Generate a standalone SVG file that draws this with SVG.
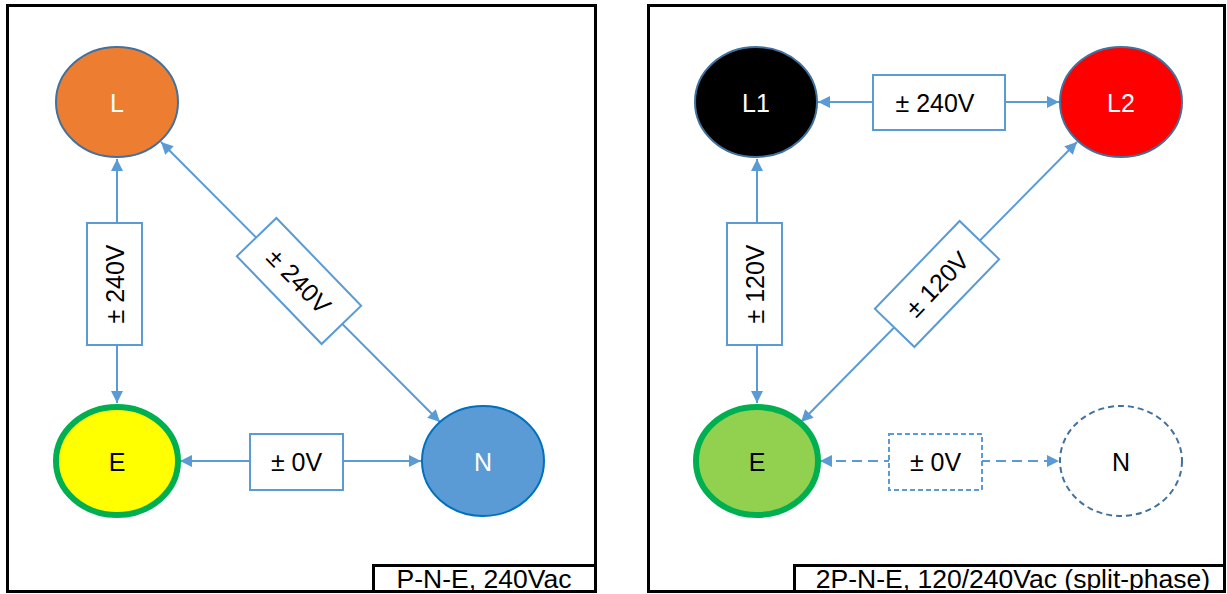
<svg xmlns="http://www.w3.org/2000/svg" width="1227" height="594" viewBox="0 0 1227 594">
<style>
.panel{fill:#fff;stroke:#000;stroke-width:3}
.t{font-family:"Liberation Sans",Arial,sans-serif;font-size:25px;text-anchor:middle;dominant-baseline:central}
.w{fill:#fff}
.k{fill:#000}
.cap{font-family:"Liberation Sans",Arial,sans-serif;font-size:26.5px;text-anchor:middle;dominant-baseline:central;fill:#000}
.conn{stroke:#5B9BD5;stroke-width:2;fill:none}
.dash{stroke-dasharray:10 6}
.lbl{fill:#fff;stroke:#5B9BD5;stroke-width:2}
.lbld{fill:#fff;stroke:#5B9BD5;stroke-width:2;stroke-dasharray:5 3}
</style>
<defs>
<marker id="ar" markerUnits="userSpaceOnUse" markerWidth="14" markerHeight="14" viewBox="0 0 14 14" refX="13" refY="7" orient="auto-start-reverse">
<path d="M1,1 L13,7 L1,13 Z" fill="#5B9BD5"/>
</marker>
</defs>
<rect class="panel" x="7.5" y="5.5" width="588" height="586"/>
<rect class="panel" x="648.5" y="5.5" width="576" height="586"/>

<g id="connectors">
<line class="conn" x1="117" y1="159" x2="117" y2="403" marker-start="url(#ar)" marker-end="url(#ar)"/>
<line class="conn" x1="161" y1="142" x2="440" y2="422" marker-start="url(#ar)" marker-end="url(#ar)"/>
<line class="conn" x1="180" y1="461" x2="421" y2="461" marker-start="url(#ar)" marker-end="url(#ar)"/>
<line class="conn" x1="818" y1="102" x2="1059" y2="102" marker-start="url(#ar)" marker-end="url(#ar)"/>
<line class="conn" x1="757" y1="159" x2="757" y2="403" marker-start="url(#ar)" marker-end="url(#ar)"/>
<line class="conn" x1="801" y1="422" x2="1077" y2="142" marker-start="url(#ar)" marker-end="url(#ar)"/>
<line class="conn dash" x1="820" y1="461" x2="1059" y2="461" marker-start="url(#ar)" marker-end="url(#ar)"/>
<rect class="lbl" x="87" y="223" width="55" height="122"/>
<text class="t k" transform="translate(115,284) rotate(-90)">± 240V</text>
<g transform="translate(299,281) rotate(46)">
<rect class="lbl" x="-61" y="-27.5" width="122" height="55"/>
<text class="t k" x="0" y="0">± 240V</text>
</g>
<rect class="lbl" x="250" y="434" width="93" height="56"/>
<text class="t k" x="296.5" y="462">± 0V</text>
<rect class="lbl" x="873" y="75" width="132" height="55"/>
<text class="t k" x="935" y="103">± 240V</text>
<rect class="lbl" x="727" y="223" width="55" height="122"/>
<text class="t k" transform="translate(755,284) rotate(-90)">± 120V</text>
<g transform="translate(937,284) rotate(-46)">
<rect class="lbl" x="-61" y="-27.5" width="122" height="55"/>
<text class="t k" x="0" y="0">± 120V</text>
</g>
<rect class="lbld" x="889" y="434" width="93" height="56"/>
<text class="t k" x="935.5" y="462">± 0V</text>
</g>

<g id="node-L">
<ellipse cx="117" cy="102" rx="61" ry="55" fill="#ED7D31" stroke="#41719C" stroke-width="2"/>
<text class="t w" x="117" y="103">L</text>
</g>
<g id="node-E-left">
<ellipse cx="117" cy="461" rx="61" ry="54" fill="#FFFF00" stroke="#00B050" stroke-width="6"/>
<text class="t k" x="117" y="462">E</text>
</g>
<g id="node-N-left">
<ellipse cx="483" cy="461" rx="61" ry="55" fill="#5B9BD5" stroke="#0070C0" stroke-width="2"/>
<text class="t w" x="483" y="462">N</text>
</g>
<g id="node-L1">
<ellipse cx="756" cy="102" rx="61" ry="55" fill="#000" stroke="#41719C" stroke-width="2"/>
<text class="t w" x="756" y="103">L1</text>
</g>
<g id="node-L2">
<ellipse cx="1121" cy="102" rx="61" ry="55" fill="#FF0000" stroke="#41719C" stroke-width="2"/>
<text class="t w" x="1121" y="103">L2</text>
</g>
<g id="node-E-right">
<ellipse cx="757" cy="461" rx="61" ry="54" fill="#92D050" stroke="#00B050" stroke-width="6"/>
<text class="t k" x="757" y="462">E</text>
</g>
<g id="node-N-right">
<ellipse cx="1121" cy="461" rx="61" ry="55" fill="#fff" stroke="#41719C" stroke-width="2" stroke-dasharray="6 4"/>
<text class="t k" x="1121" y="462">N</text>
</g>

<g id="caption-left">
<rect class="panel" x="373.5" y="565.5" width="222" height="26"/>
<text class="cap" x="484" y="579">P-N-E, 240Vac</text>
</g>
<g id="caption-right">
<rect class="panel" x="794.5" y="565.5" width="430" height="26"/>
<text class="cap" x="1013" y="579">2P-N-E, 120/240Vac (split-phase)</text>
</g>
</svg>
